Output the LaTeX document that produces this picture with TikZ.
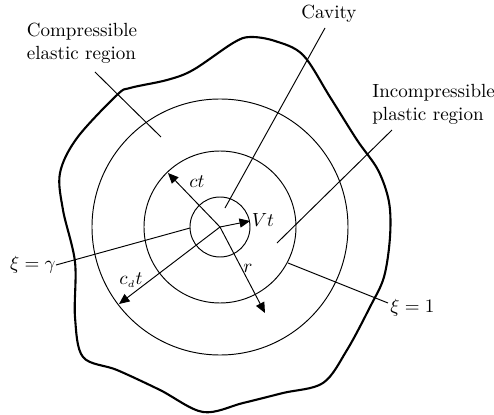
\documentclass[tikz,border=0pt]{standalone}
\usepackage{amsmath}
\usetikzlibrary{arrows.meta}

\begin{document}
\begin{tikzpicture}[
    x=0.525pt, y=0.525pt,
    every node/.style={font=\normalsize, inner sep=0pt},
    arr/.style={-{Triangle[length=5.5pt,width=4.8pt]}, line width=0.5pt},
    lead/.style={line width=0.5pt},
    ring/.style={line width=0.5pt},
    rim/.style={line width=1.1pt}
]
\useasboundingbox (-220,-188) rectangle (274,227);

\coordinate (O) at (0,0);

% rings
\draw[ring] (O) circle (30);
\draw[ring] (O) circle (76);
\draw[ring] (O) circle (128);

% wavy outer boundary
\draw[rim] plot[smooth cycle, tension=0.55] coordinates {
    (-103,132) (-90,139) (-53,147) (-27,157) (13,184) (30,190)
    (55,186) (83,172) (110,130) (137,87) (158,57) (169,25)
    (170,-10) (164,-50) (150,-80) (127,-123) (103,-156) (63,-166)
    (23,-176) (-17,-185) (-60,-163) (-103,-143) (-137,-130)
    (-145,-90) (-145,-35) (-157,17) (-160,54) (-143,89)};

% labels
\node (cavity) at (109,213) {Cavity};
\node[align=left] (elastic) at (-138,184) {Compressible\\elastic region};
\node[align=left, anchor=west] (plastic) at (152,123) {Incompressible\\plastic region};
\node[anchor=east] (xig) at (-164,-38) {$\xi=\gamma$};
\node[anchor=west] (xi1) at (170,-81) {$\xi=1$};

\coordinate (cavA) at (105,199);
\coordinate (cavB) at (5,19);
\coordinate (elaA) at (-125,155);
\coordinate (elaB) at (-59,90);
\coordinate (plaA) at (172,97);
\coordinate (plaB) at (57,-16);
\coordinate (xigB) at (-30,-1);
\coordinate (xiA) at (68,-36);
\coordinate (xiB) at (168,-76);

\draw[lead] (cavA) -- (cavB);
\draw[lead] (elaA) -- (elaB);
\draw[lead] (plaA) -- (plaB);
\draw[lead] (xig.east) -- (xigB);
\draw[lead] (xiA) -- (xiB);

% radii
\coordinate (ctE) at (-52,54);
\coordinate (VtE) at (30,6);
\coordinate (rE) at (45,-86);
\coordinate (cdE) at (-101,-77);

\draw[arr] (O) -- (ctE);
\draw[arr] (O) -- (VtE);
\draw[arr] (O) -- (rE);
\draw[arr] (O) -- (cdE);

\node (ct) at (-23,45) {$ct$};
\node (Vt) at (43,7) {$Vt$};
\node (r) at (28,-41) {$r$};
\node (cdt) at (-89,-53) {$c_{\scriptscriptstyle d}t$};

\end{tikzpicture}
\end{document}
